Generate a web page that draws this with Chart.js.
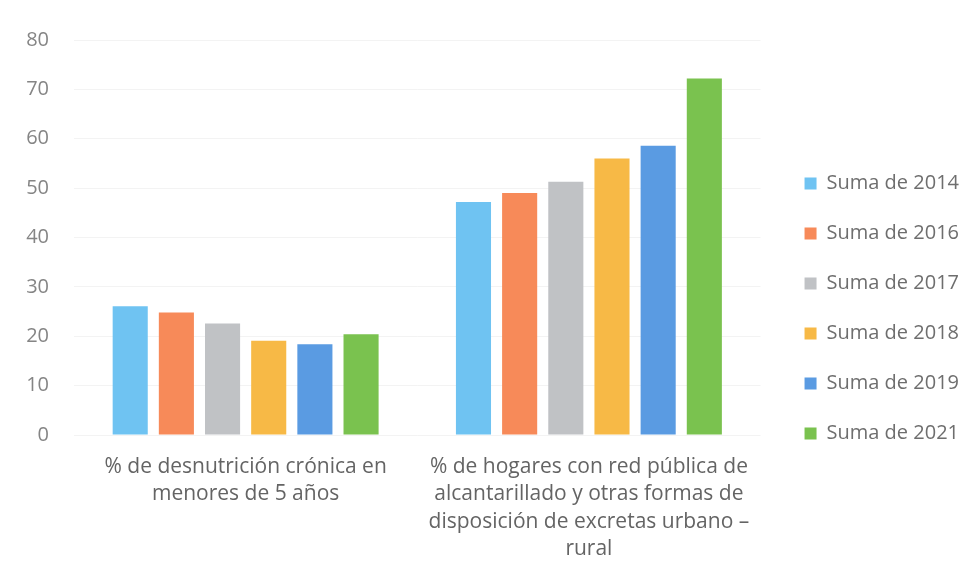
<!DOCTYPE html>
<html>
<head>
<meta charset="utf-8">
<script src="https://cdn.jsdelivr.net/npm/chart.js@4.4.0/dist/chart.umd.min.js"></script>
<style>
  html, body { margin: 0; padding: 0; background: #ffffff; }
  #wrap { width: 976px; height: 577px; }
</style>
</head>
<body>
<div id="wrap"><canvas id="c" width="976" height="577"></canvas></div>
<script>
const categories = [
  ["% de desnutrición crónica en", "menores de 5 años"],
  ["% de hogares con red pública de", "alcantarillado y otras formas de", "disposición de excretas urbano –", "rural"]
];
const seriesLabels = ["Suma de 2014", "Suma de 2016", "Suma de 2017", "Suma de 2018", "Suma de 2019", "Suma de 2021"];
const values2014 = [26.1, 47.2];
const values2016 = [24.8, 49.0];
const values2017 = [22.6, 51.3];
const values2018 = [19.1, 56.0];
const values2019 = [18.4, 58.6];
const values2021 = [20.4, 72.2];
const seriesColors = ["#6fc3f2", "#f78a59", "#c0c2c5", "#f7b946", "#5a9be2", "#7ac24f"];
const yTicks = [0, 10, 20, 30, 40, 50, 60, 70, 80];

const seriesValues = [values2014, values2016, values2017, values2018, values2019, values2021];
const datasets = seriesLabels.map((lab, i) => ({
  label: lab,
  data: seriesValues[i],
  backgroundColor: seriesColors[i],
  borderWidth: 0,
  categoryPercentage: 0.807,
  barPercentage: 0.76
}));

Chart.defaults.font.family = "'Open Sans', Lato, sans-serif";

// Extra gap between the plot area and the legend (layout only)
const LEGEND_GAP = 14;
const legendGap = {
  id: 'legendGap',
  beforeUpdate(chart) {
    const lg = chart.legend;
    if (lg && !lg._gapPatched) {
      lg._gapPatched = true;
      const fit = lg.fit.bind(lg);
      lg.fit = function () { fit(); this.width += LEGEND_GAP; };
      const draw = lg.draw.bind(lg);
      lg.draw = function () { this.left += LEGEND_GAP; draw(); this.left -= LEGEND_GAP; };
    }
  }
};

new Chart(document.getElementById('c'), {
  type: 'bar',
  data: { labels: categories, datasets: datasets },
  plugins: [legendGap],
  options: {
    responsive: false,
    animation: false,
    devicePixelRatio: 1,
    layout: { padding: { top: 40, bottom: 0, left: 0, right: 7 } },
    plugins: {
      legend: {
        position: 'right',
        align: 'center',
        labels: {
          boxWidth: 12,
          boxHeight: 12,
          padding: 30,
          color: '#6e6e6e',
          font: { size: 20 }
        }
      },
      tooltip: { enabled: false }
    },
    scales: {
      x: {
        grid: { display: false, drawTicks: false },
        border: { display: false },
        ticks: {
          color: '#646464',
          font: { size: 21, lineHeight: 1.31 },
          padding: 18,
          maxRotation: 0,
          autoSkip: false
        },
        afterFit: (s) => { s.height = 142; }
      },
      y: {
        min: 0,
        max: 80,
        afterBuildTicks: (s) => { s.ticks = yTicks.map(v => ({ value: v })); },
        grid: { color: '#f3f3f3', drawTicks: false },
        border: { display: false },
        ticks: {
          color: '#858585',
          font: { size: 20 },
          padding: 25
        },
        afterFit: (s) => { s.width = 74; }
      }
    }
  }
});
</script>
</body>
</html>
